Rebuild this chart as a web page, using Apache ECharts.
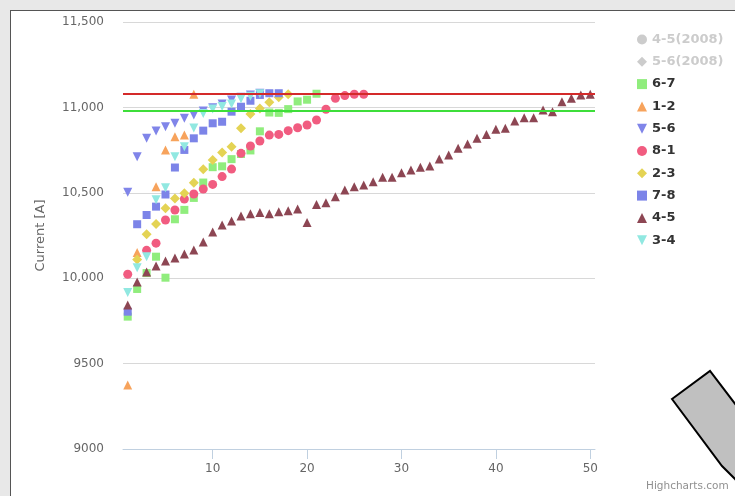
<!DOCTYPE html>
<html><head><meta charset="utf-8">
<script src="https://cdn.jsdelivr.net/npm/echarts@6/dist/echarts.min.js"></script>
<style>
html,body{margin:0;padding:0;width:735px;height:496px;overflow:hidden;background:#e8e8e8;}
#frame{position:absolute;left:10px;top:10px;width:740px;height:500px;border:1px solid #555;background:#fff;}
#chart{position:absolute;left:0;top:0;width:740px;height:500px;}
</style></head>
<body><div id="frame"><div id="chart"></div></div>
<script>
// ---- data ----
const seriesNames = ['4-5(2008)', '5-6(2008)', '6-7', '1-2', '5-6', '8-1', '2-3', '7-8', '4-5', '3-4'];
const xTicks = [10, 20, 30, 40, 50];
const yTicks = [9000, 9500, 10000, 10500, 11000, 11500];
const redLimit = 11080;
const greenLimit = 10980;

const x_67 = [1,2,3,4,5,6,7,8,9,10,11,12,13,14,15,16,17,18,19,20,21];
const y_67 = [9775,9937,10030,10126,10003,10345,10400,10470,10560,10650,10655,10697,10727,10748,10860,10970,10968,10990,11035,11045,11080];

const x_12 = [1,2,4,5,6,7,8];
const y_12 = [9375,10150,10536,10751,10828,10838,11077];

const x_56 = [1,2,3,4,5,6,7,8,9,10,11,12,13,14,15];
const y_56 = [10503,10711,10819,10862,10887,10907,10936,10955,10979,10998,11020,11043,11059,11073,11083];

const x_81 = [1,3,4,5,6,7,8,9,10,11,12,13,14,15,16,17,18,19,20,21,22,23,24,25,26];
const y_81 = [10023,10163,10205,10341,10399,10464,10493,10522,10549,10595,10639,10731,10774,10803,10838,10842,10864,10881,10897,10926,10989,11053,11069,11077,11077];

const x_23 = [2,3,4,5,6,7,8,9,10,11,12,13,14,15,16,17,18];
const y_23 = [10110,10257,10318,10410,10466,10497,10559,10638,10692,10736,10770,10878,10962,10993,11030,11060,11077];

const x_78 = [1,2,3,4,5,6,7,8,9,10,11,12,13,14,15,16,17];
const y_78 = [9804,10316,10370,10419,10490,10648,10751,10819,10864,10907,10916,10975,11004,11039,11073,11083,11083];

const x_45 = [1,2,3,4,5,6,7,8,9,10,11,12,13,14,15,16,17,18,19,20,21,22,23,24,25,26,27,28,29,30,31,32,33,34,35,36,37,38,39,40,41,42,43,44,45,46,47,48,49,50];
const y_45 = [9843,9978,10036,10071,10101,10118,10142,10165,10212,10270,10311,10335,10364,10378,10384,10378,10389,10395,10405,10326,10431,10442,10477,10516,10536,10546,10565,10591,10591,10618,10633,10649,10657,10698,10721,10761,10786,10819,10842,10872,10878,10920,10940,10940,10985,10975,11033,11053,11073,11077];

const x_34 = [1,2,3,4,5,6,7,8,9,10,11,12,13,14,15];
const y_34 = [9917,10061,10126,10460,10530,10711,10770,10880,10965,10990,11005,11020,11050,11065,11080];

// ---- build ----
const TRI_DOWN = 'path://M0,0 L10,0 L5,10 Z';
function pairs(xs, ys){ return xs.map((x,i)=>[x, ys[i]]); }
const seriesData = [[], [], pairs(x_67,y_67), pairs(x_12,y_12), pairs(x_56,y_56), pairs(x_81,y_81), pairs(x_23,y_23), pairs(x_78,y_78), pairs(x_45,y_45), pairs(x_34,y_34)];
const colors = ['#7cb5ec', '#434348', '#90ed7d', '#f7a35c', '#8085e9', '#f15c80', '#e4d354', '#7c84e8', '#8d4653', '#91e8e1'];
const symbols = ['circle', 'diamond', 'rect', 'triangle', TRI_DOWN, 'circle', 'diamond', 'rect', 'triangle', TRI_DOWN];

const series = seriesNames.map((n, i) => {
  const s = {
    name: n, type: 'scatter', data: seriesData[i], symbol: symbols[i],
    symbolSize: symbols[i] === 'diamond' ? 10 : (symbols[i] === 'rect' ? 8 : 9),
    itemStyle: {color: colors[i], opacity: 1},
    emphasis: {disabled: true}
  };
  if (n === '6-7') {
    s.markLine = {
      silent: true, symbol: 'none', label: {show: false},
      data: [
        {yAxis: redLimit, lineStyle: {color: '#d42a2a', width: 2, type: 'solid'}},
        {yAxis: greenLimit, lineStyle: {color: '#3ede3a', width: 2, type: 'solid'}}
      ]
    };
  }
  return s;
});

const chart = echarts.init(document.getElementById('chart'), null, {renderer: 'canvas'});
const fontFam = '"DejaVu Sans", Verdana, sans-serif';
chart.setOption({
  animation: false,
  color: colors,
  grid: {left: 112, top: 11, width: 472, height: 427, containLabel: false},
  xAxis: {
    type: 'value', min: 0.5, max: 50.5,
    splitLine: {show: false},
    axisLine: {show: true, lineStyle: {color: '#c0d0e0', width: 1}},
    axisTick: {show: true, customValues: xTicks, length: 10, lineStyle: {color: '#c0d0e0'}},
    axisLabel: {customValues: xTicks, color: '#666', fontSize: 12, fontFamily: fontFam, margin: 14}
  },
  yAxis: {
    type: 'value', min: 9000, max: 11500, interval: 500,
    name: 'Current [A]', nameLocation: 'middle', nameGap: 76,
    nameTextStyle: {color: '#666', fontSize: 13, fontFamily: fontFam},
    axisLine: {show: false}, axisTick: {show: false},
    splitLine: {lineStyle: {color: '#d8d8d8', width: 1}},
    axisLabel: {
      color: '#666', fontSize: 12, fontFamily: fontFam, margin: 19,
      formatter: v => v >= 10000 ? v.toLocaleString('en-US') : String(v)
    }
  },
  legend: {
    orient: 'vertical', left: 621, top: 17,
    itemWidth: 10, itemHeight: 10, itemGap: 9.3,
    inactiveColor: '#ccc',
    selected: {'4-5(2008)': false, '5-6(2008)': false},
    textStyle: {color: '#333', fontSize: 13, fontWeight: 'bold', fontFamily: fontFam, lineHeight: 13},
    data: seriesNames.map((n, i) => ({name: n, icon: symbols[i]}))
  },
  series: series,
  graphic: [
    {type: 'polygon', z: 100,
     shape: {points: [[661,388],[699,360],[760,440],[760,520],[724,468],[711,455]]},
     style: {fill: '#c0c0c0', stroke: '#000', lineWidth: 2}},
    {type: 'text', z: 100, left: 635, top: 470,
     style: {text: 'Highcharts.com', fill: '#909090', fontSize: 10.5, fontFamily: fontFam}}
  ]
});
</script>
</body></html>
